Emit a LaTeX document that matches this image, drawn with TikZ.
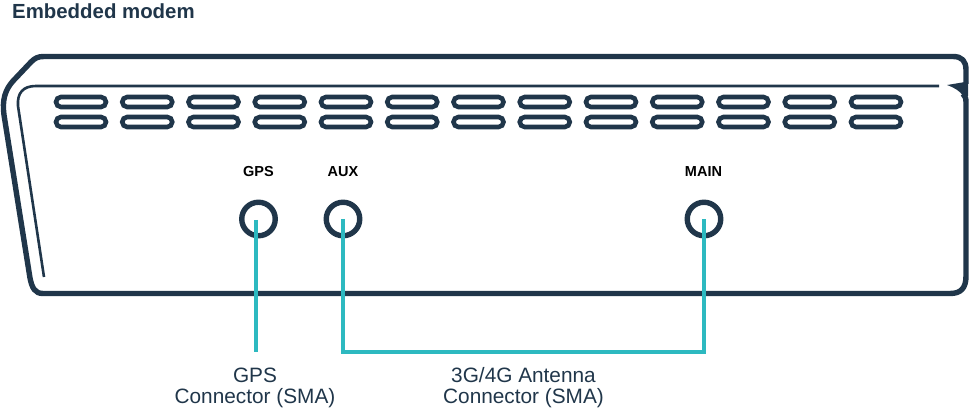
\documentclass[tikz,border=0pt]{standalone}
\usepackage{fontspec}
\setmainfont{Liberation Sans}
\definecolor{bodyblue}{HTML}{20364A}
\definecolor{cabteal}{HTML}{2DB9C0}
\tikzset{
	case/.style={draw=bodyblue,line width=5.4pt,line join=round},
	caseline/.style={draw=bodyblue,line width=2.6pt},
	slot/.style={draw=bodyblue,line width=4.6pt,rounded corners=5pt},
	port/.style={circle,draw=bodyblue,line width=5.4pt,minimum size=33.5pt,inner sep=0pt},
	portname/.style={font=\fontsize{14.5}{14.5}\selectfont\bfseries,text=black},
	cable/.style={draw=cabteal,line width=4pt},
	captext/.style={font=\fontsize{20.8}{21}\selectfont,text=bodyblue,align=center,inner sep=0pt}
}
\begin{document}
\begin{tikzpicture}[x=1pt,y=-1pt]
	\useasboundingbox (0,0) rectangle (970,409);
	\node[anchor=west,inner sep=0pt,font=\fontsize{20.4}{22}\selectfont\bfseries,text=bodyblue] (title) at (12,11) {Embedded modem};
	% case outline
	\draw[case] (966,84) -- (966,70) .. controls (966,61) and (962,56.5) .. (953,56.5)
		-- (44,56.5) .. controls (38,56.5) and (35,58) .. (31,62)
		-- (13,81) .. controls (5,90) and (2,100) .. (4,115)
		-- (30,278) .. controls (32,288) and (35,293.5) .. (43,293.5)
		-- (950,293.5) .. controls (961,293.5) and (966,288) .. (966,276)
		-- (966,102) .. controls (966,98) and (965,96) .. (963,94);
	% notch
	\fill[bodyblue] (947,85) -- (968,81.5) -- (968,96) -- (963,96) .. controls (960,91) and (955,88) .. cycle;
	\draw[caseline] (939,86) -- (36,86) .. controls (23,86) and (17,93) .. (18,106) -- (44,277);
	% vents
	\foreach \col in {0,...,12}
		\foreach \rowy in {97,117}
			\draw[slot] ({56+66.25*\col},\rowy) rectangle ({106+66.25*\col},\rowy+10);
	% ports
	\node[port] (gps) at (258.5,219) {};
	\node[port] (aux) at (343,219) {};
	\node[port] (main) at (704,219) {};
	\node[portname] (gpsname) at (258.5,171.5) {GPS};
	\node[portname] (auxname) at (343,171.5) {AUX};
	\node[portname] (mainname) at (703.5,171.5) {MAIN};
	% cables
	\coordinate (gpspin) at (255.5,220);
	\coordinate (gpsend) at (255.5,352);
	\coordinate (auxdown) at (343,352);
	\coordinate (maindown) at (704,352);
	\draw[cable] (gpspin) -- (gpsend);
	\draw[cable,line join=miter] (aux.center) -- (auxdown) -- (maindown) -- (main.center);
	\node[captext] (gpstext) at (255,387.5) {GPS\\Connector (SMA)};
	\node[captext] (anttext) at (523.5,387.5) {3G/4G Antenna\\Connector (SMA)};
\end{tikzpicture}
\end{document}
